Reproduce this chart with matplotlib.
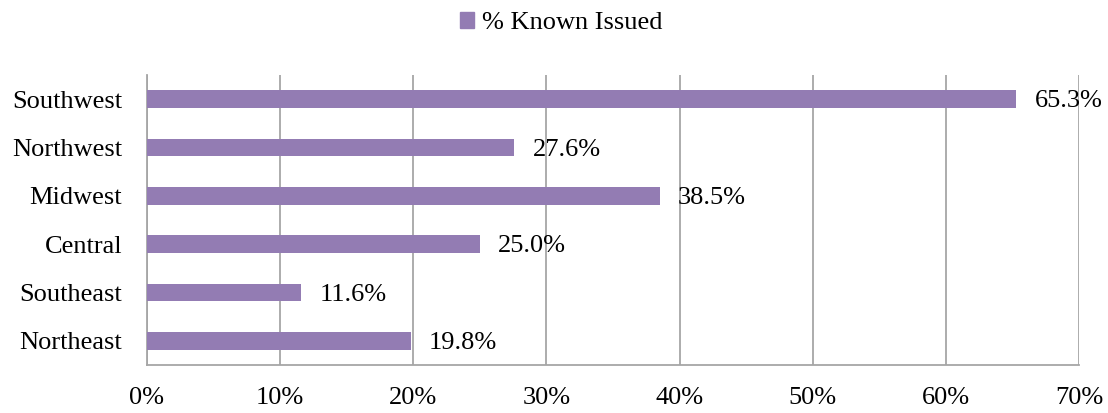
import matplotlib
matplotlib.use("Agg")
import matplotlib.pyplot as plt
from matplotlib.patches import Patch

regions = ["Northeast", "Southeast", "Central", "Midwest", "Northwest", "Southwest"]
known_issued = [19.8, 11.6, 25.0, 38.5, 27.6, 65.3]
x_ticks = [0, 10, 20, 30, 40, 50, 60, 70]
series_name = "% Known Issued"

BAR = "#937cb3"
GRID = "#a6a6a6"

plt.rcParams["font.family"] = ["Liberation Serif", "DejaVu Serif"]

fig = plt.figure(figsize=(11.08, 4.13), dpi=100)
ax = fig.add_axes([147 / 1108, 1 - 365 / 413, (1079 - 147) / 1108, (365 - 75) / 413])

ypos = list(range(len(regions)))
ax.barh(ypos, known_issued, height=0.37, color=BAR, zorder=3)
for y, v in zip(ypos, known_issued):
    ax.annotate(f"{v:.1f}%", (v, y), xytext=(13, -1.5), textcoords="offset points",
                va="center", ha="left", fontsize=19, color="black", zorder=4)

ax.set_xlim(0, 70)
ax.set_ylim(-0.5, len(regions) - 0.5)
ax.set_xticks(x_ticks)
ax.set_xticklabels([f"{t}%" for t in x_ticks])
ax.set_yticks(ypos)
ax.set_yticklabels(regions)
ax.tick_params(axis="both", length=0, labelsize=19)
ax.tick_params(axis="x", pad=16)
ax.tick_params(axis="y", pad=18)

ax.grid(axis="x", color=GRID, linewidth=1.3, zorder=0)
ax.grid(axis="y", visible=False)
for s in ["top", "right"]:
    ax.spines[s].set_visible(False)
for s in ["left", "bottom"]:
    ax.spines[s].set_color(GRID)
    ax.spines[s].set_linewidth(1.3)

fig.legend(handles=[Patch(color=BAR, label=series_name)], loc="center",
           bbox_to_anchor=(561 / 1108, 1 - 23 / 413), frameon=False, fontsize=19,
           handlelength=0.55, handleheight=0.55, handletextpad=0.3)

fig.savefig("out.png", dpi=100)
